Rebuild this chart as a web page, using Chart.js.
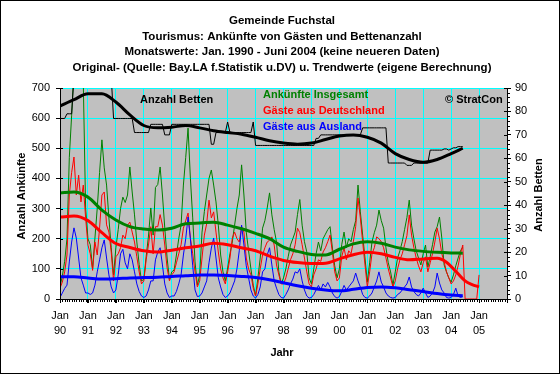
<!DOCTYPE html>
<html>
<head>
<meta charset="utf-8">
<script src="https://cdn.jsdelivr.net/npm/chart.js@4/dist/chart.umd.min.js"></script>
<style>
  html, body { margin: 0; padding: 0; background: #fff; }
  canvas { display: block; }
</style>
</head>
<body>
<canvas id="chart" width="560" height="374"></canvas>
<script>
// Monthly values, Jan 1990 .. Jun 2004 (month index 0 = Jan 1990)
const total = [
  41, 76, 125, 200, 470, 610, 760, 850, 900, 780, 720, 302,   // 1990
  200, 180, 100, 202, 302, 420, 528, 435, 378, 269, 170, 80,  // 1991
  170, 230, 300, 338, 320, 345, 438, 355, 279, 189, 115, 60,  // 1992
  65, 140, 209, 302, 212, 370, 380, 438, 345, 236, 136, 65,   // 1993
  90, 96, 146, 200, 245, 378, 470, 567, 401, 269, 123, 46,    // 1994
  80, 222, 290, 345, 400, 428, 378, 322, 245, 146, 90, 60,    // 1995
  103, 150, 189, 245, 300, 345, 445, 345, 222, 160, 100, 46,  // 1996
  10, 70, 136, 235, 260, 302, 352, 279, 230, 189, 90, 50,     // 1997
  70, 100, 140, 179, 200, 222, 280, 330, 245, 190, 156, 70,   // 1998
  50, 100, 150, 189, 160, 200, 215, 230, 240, 169, 110, 70,   // 1999
  100, 180, 222, 170, 200, 190, 230, 260, 378, 289, 212, 136, // 2000
  56, 120, 189, 220, 245, 295, 260, 235, 170, 120, 90, 46,    // 2001
  90, 136, 160, 190, 230, 270, 328, 245, 200, 160, 136, 113,  // 2002
  150, 179, 106, 140, 180, 222, 240, 272, 202, 113, 90, 70,   // 2003
  56, 80, 110, 136, 160, 172                                  // 2004
];
const germany = [
  36, 56, 90, 146, 345, 420, 471, 345, 411, 322, 378, 269,
  179, 150, 95, 189, 146, 236, 345, 355, 246, 222, 156, 60,
  140, 150, 170, 212, 200, 245, 255, 222, 189, 140, 90, 50,
  60, 130, 179, 240, 150, 240, 240, 280, 245, 179, 103, 60,
  80, 90, 120, 150, 180, 235, 260, 285, 202, 150, 90, 40,
  60, 136, 212, 250, 328, 269, 289, 222, 156, 100, 70, 50,
  90, 136, 202, 222, 200, 189, 239, 222, 136, 100, 80, 36,
  10, 50, 100, 146, 170, 189, 195, 206, 179, 113, 80, 50,
  50, 70, 100, 130, 150, 180, 235, 220, 180, 136, 90, 50,
  40, 80, 100, 130, 125, 156, 170, 190, 212, 156, 90, 60,
  70, 140, 170, 130, 160, 150, 190, 240, 335, 269, 189, 113,
  40, 90, 150, 170, 206, 200, 190, 170, 136, 100, 70, 40,
  60, 100, 130, 150, 180, 210, 279, 212, 170, 136, 110, 90,
  120, 140, 90, 120, 150, 189, 235, 200, 150, 123, 90, 70,
  50, 60, 80, 110, 150, 179, 0, 0, 0, 0, 0, 0,
  80                                                          // Jan 2005
];
const foreign = [
  5, 20, 35, 46, 123, 189, 236, 202, 136, 70, 46, 20,
  20, 15, 20, 46, 90, 130, 170, 196, 136, 80, 40, 20,
  30, 80, 150, 165, 120, 100, 150, 130, 90, 50, 25, 10,
  5, 10, 30, 60, 60, 130, 156, 170, 113, 50, 20, 5,
  10, 10, 25, 50, 80, 146, 200, 272, 200, 110, 30, 8,
  10, 20, 40, 60, 120, 169, 202, 136, 70, 40, 15, 5,
  10, 20, 40, 60, 100, 160, 245, 179, 110, 70, 30, 10,
  3, 15, 40, 90, 100, 146, 170, 113, 60, 36, 15, 5,
  3, 15, 30, 50, 66, 90, 86, 100, 60, 30, 10, 3,
  5, 15, 30, 45, 30, 50, 40, 55, 40, 20, 8, 3,
  8, 25, 45, 30, 40, 50, 60, 86, 60, 40, 15, 5,
  3, 10, 20, 40, 60, 90, 56, 40, 20, 10, 5, 3,
  5, 15, 20, 30, 40, 50, 73, 40, 25, 15, 10, 20,
  36, 20, 5, 10, 20, 40, 86, 53, 30, 20, 5, 3,
  5, 15, 36, 10, 5, 8
];
// beds (right axis)
const beds = [
  77, 77, 77, 79, 79, 79, 95, 95, 95, 95, 95, 95,
  95, 95, 95, 95, 95, 95, 95, 95, 95, 95, 95, 77,
  77, 77, 77, 77, 77, 77, 77, 77, 71, 71, 71, 71,
  71, 71, 71, 74.5, 74.5, 74.5, 74.5, 74.5, 74.5, 70, 70, 70,
  74.5, 74.5, 74.5, 74.5, 74.5, 74.5, 74.5, 74.5, 74.5, 74.5, 74.5, 74.5,
  74.5, 74.5, 74.5, 74.5, 74.5, 66, 66, 71, 71, 71, 71, 71,
  75.5, 71, 71, 71, 71, 71, 71, 71, 71, 71, 71, 75.5,
  65.5, 65.5, 65.5, 65.5, 65.5, 65.5, 65.5, 65.5, 65.5, 65.5, 65.5, 65.5,
  65.5, 65.5, 65.5, 65.5, 65.5, 65.5, 65.5, 65.5, 65.5, 65.5, 65.5, 65.5,
  65.5, 65.5, 68.5, 68.5, 70, 70, 70, 70, 70, 70, 70, 70,
  70, 70, 70, 70, 70, 70, 70, 70, 70, 70, 73, 73,
  73, 73, 73, 73, 73, 73, 73, 73, 73, 58, 58, 58,
  58, 58, 58, 58, 58, 57, 57, 57, 58, 58, 58, 58,
  58, 58, 58, 63.5, 63.5, 63.5, 63.5, 63.5, 63.5, 64, 64, 63.5,
  64, 64.5, 64.5, 65, 65, 65
];

// trend values, read every 6 months
const trendMonths = [0, 6, 12, 18, 24, 30, 36, 42, 48, 54, 60, 66, 72, 78, 84, 90,
  96, 102, 108, 114, 120, 126, 132, 138, 144, 150, 156, 162, 168, 173];
const totalTrend = [352, 355, 338, 295, 262, 240, 232, 229, 235, 250, 252, 255, 245, 233, 218, 200,
  172, 158, 148, 146, 165, 183, 190, 185, 172, 163, 158, 155, 153, 152];
const foreignTrend = [74, 74, 70, 66, 67, 70, 71, 72, 75, 77, 80, 80, 78, 75, 71, 64,
  54, 44, 36, 30, 27, 32, 38, 40, 37, 31, 25, 18, 13, 11];
const bedsTrend = [82.3, 85, 87.5, 87.5, 84, 78.5, 74, 73, 73.3, 74, 73, 71.8, 71, 70.3, 69, 67.5,
  66.5, 66, 66.5, 68, 69.5, 70, 69, 66.5, 62, 59.5, 58.3, 59.5, 62, 64.3];
const germanyTrendMonths = [0, 6, 12, 18, 24, 30, 36, 42, 48, 54, 60, 66, 72, 78, 84, 90,
  96, 102, 108, 114, 120, 126, 132, 138, 144, 150, 156, 162, 166, 170, 174, 177, 180];
const germanyTrend = [272, 275, 260, 220, 184, 171, 160, 156, 162, 170, 176, 185, 180, 170, 160, 142,
  128, 121, 118, 119, 133, 147, 155, 150, 138, 130, 133, 135, 122, 92, 60, 48, 40];

const yearLabels = ['90', '91', '92', '93', '94', '95', '96', '97', '98', '99', '00', '01', '02', '03', '04', '05'];

const FONT = '"Liberation Sans", Arial, sans-serif';

function monthly(arr) {
  return arr.map((v, i) => ({ x: i, y: v }));
}
function sampled(months, arr) {
  return arr.map((v, i) => ({ x: months[i], y: v }));
}
function stepTicks(max, step) {
  return scale => {
    scale.ticks = [];
    for (let v = 0; v <= max; v += step) scale.ticks.push({ value: v });
  };
}

// background, texts and the extra tick marks Chart.js does not draw
const decor = {
  id: 'decor',
  beforeDraw(chart) {
    const { ctx, chartArea: a } = chart;
    ctx.save();
    ctx.fillStyle = '#fff';
    ctx.fillRect(0, 0, chart.width, chart.height);
    ctx.fillStyle = '#c0c0c0';
    ctx.fillRect(a.left, a.top, a.right - a.left, a.bottom - a.top);
    ctx.restore();
  },
  afterDraw(chart) {
    const { ctx, chartArea: a } = chart;
    const x = chart.scales.x, y2 = chart.scales.y2, y = chart.scales.y;
    ctx.save();

    // axis lines on top of the data
    ctx.strokeStyle = '#000';
    ctx.lineWidth = 1;
    ctx.beginPath();
    ctx.moveTo(a.left + 0.5, a.top); ctx.lineTo(a.left + 0.5, a.bottom + 0.5);
    ctx.lineTo(a.right + 0.5, a.bottom + 0.5); ctx.lineTo(a.right + 0.5, a.top);
    // monthly minor ticks
    for (let m = 0; m <= 192; m++) {
      const px = Math.round(x.getPixelForValue(m)) + 0.5;
      ctx.moveTo(px, a.bottom); ctx.lineTo(px, a.bottom + (m % 12 ? 3 : 4));
    }
    // right axis minor + crossing majors
    for (let b = 0; b <= 90; b += 2) {
      const py = Math.round(y2.getPixelForValue(b)) + 0.5;
      if (b % 10) { ctx.moveTo(a.right, py); ctx.lineTo(a.right + 3, py); }
      else { ctx.moveTo(a.right - 3, py); ctx.lineTo(a.right, py); }
    }
    // left axis crossing majors
    for (let v = 0; v <= 700; v += 100) {
      const py = Math.round(y.getPixelForValue(v)) + 0.5;
      ctx.moveTo(a.left, py); ctx.lineTo(a.left + 3, py);
    }
    ctx.stroke();

    ctx.fillStyle = '#000';
    ctx.textAlign = 'center';
    ctx.textBaseline = 'middle';
    ctx.font = 'bold 11.5px ' + FONT;
    ctx.fillText('Gemeinde Fuchstal', 282, 21);
    ctx.fillText('Tourismus: Ankünfte von Gästen und Bettenanzahl', 282, 37);
    ctx.fillText('Monatswerte: Jan. 1990 - Juni 2004 (keine neueren Daten)', 282, 52);
    ctx.fillText('Original- (Quelle: Bay.LA f.Statistik u.DV) u. Trendwerte (eigene Berechnung)', 282, 68);
    ctx.font = 'bold 11px ' + FONT;
    ctx.fillText('Jahr', 282, 353);

    ctx.save();
    ctx.translate(22, 196);
    ctx.rotate(-Math.PI / 2);
    ctx.fillText('Anzahl Ankünfte', 0, 0);
    ctx.restore();
    ctx.save();
    ctx.translate(539, 195);
    ctx.rotate(-Math.PI / 2);
    ctx.fillText('Anzahl Betten', 0, 0);
    ctx.restore();

    // in-plot labels
    ctx.textAlign = 'left';
    ctx.fillText('Anzahl Betten', 140, 100);
    ctx.fillText('© StratCon', 445, 100);
    ctx.fillStyle = '#008000';
    ctx.fillText('Ankünfte Insgesamt', 263, 95);
    ctx.fillStyle = '#ff0000';
    ctx.fillText('Gäste aus Deutschland', 263, 111);
    ctx.fillStyle = '#0000ff';
    ctx.fillText('Gäste aus Ausland', 263, 127);

    // outer frame
    ctx.strokeStyle = '#000';
    ctx.strokeRect(0.5, 0.5, chart.width - 1, chart.height - 1);
    ctx.restore();
  }
};

function line(data, color, width, order, axis, smooth) {
  return {
    data: data,
    borderColor: color,
    borderWidth: width,
    pointRadius: 0,
    fill: false,
    tension: 0,
    cubicInterpolationMode: smooth ? 'monotone' : 'default',
    yAxisID: axis || 'y',
    order: order
  };
}

new Chart(document.getElementById('chart'), {
  type: 'line',
  data: {
    datasets: [
      line(sampled(trendMonths, bedsTrend), '#000', 3, 0, 'y2', true),
      line(monthly(beds), '#000', 1, 1, 'y2'),
      line(sampled(trendMonths, foreignTrend), '#0000ff', 3, 2, 'y', true),
      line(sampled(germanyTrendMonths, germanyTrend), '#ff0000', 3, 3, 'y', true),
      line(sampled(trendMonths, totalTrend), '#008000', 3, 4, 'y', true),
      line(monthly(foreign), '#0000ff', 1, 5),
      line(monthly(germany), '#ff0000', 1, 6),
      line(monthly(total), '#008000', 1, 7)
    ]
  },
  options: {
    responsive: false,
    animation: false,
    events: [],
    layout: { padding: { top: 88, left: 0, right: 0, bottom: 0 } },
    plugins: {
      legend: { display: false },
      tooltip: { enabled: false },
      title: { display: false }
    },
    scales: {
      x: {
        type: 'linear',
        min: 0,
        max: 192,
        afterBuildTicks: stepTicks(192, 12),
        afterFit: s => { s.height = 75; },
        ticks: {
          autoSkip: false,
          maxRotation: 0,
          padding: 5,
          color: '#000',
          font: { family: FONT, size: 11, lineHeight: 1.4 },
          callback: v => (v < 192 ? ['Jan', yearLabels[v / 12]] : '')
        },
        grid: { color: '#00ffff', lineWidth: 1, tickColor: '#000', tickLength: 4 },
        border: { color: '#000' }
      },
      y: {
        position: 'left',
        min: 0,
        max: 700,
        afterBuildTicks: stepTicks(700, 100),
        afterFit: s => { s.width = 60; },
        ticks: { padding: 6, color: '#000', font: { family: FONT, size: 11 } },
        grid: { color: '#00ffff', lineWidth: 1, tickColor: '#000', tickLength: 4 },
        border: { color: '#000' }
      },
      y2: {
        position: 'right',
        min: 0,
        max: 90,
        afterBuildTicks: stepTicks(90, 10),
        afterFit: s => { s.width = 53; },
        ticks: { padding: 4, color: '#000', font: { family: FONT, size: 11 } },
        grid: { drawOnChartArea: false, tickColor: '#000', tickLength: 4 },
        border: { color: '#000' }
      }
    }
  },
  plugins: [decor]
});
</script>
</body>
</html>
